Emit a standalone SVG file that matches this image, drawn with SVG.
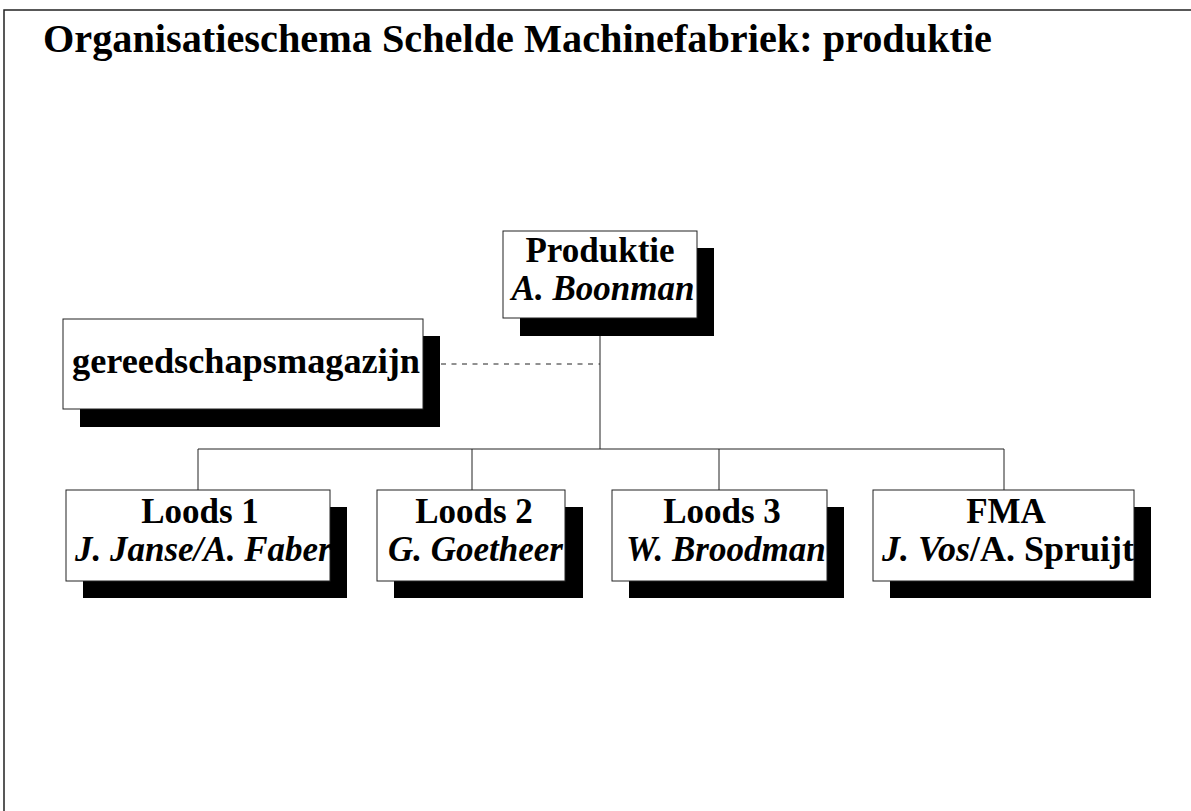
<svg xmlns="http://www.w3.org/2000/svg" width="1191" height="811" viewBox="0 0 1191 811">
<style>
.frame{stroke:#222;stroke-width:1.5;fill:none}
.conn{stroke:#222;stroke-width:1;fill:none}
.dash{stroke:#222;stroke-width:1;fill:none;stroke-dasharray:5 5.5}
.shadow{fill:#000}
.box{fill:#fff;stroke:#222;stroke-width:1}
.t{font-family:"Liberation Serif","Times New Roman",serif;font-weight:bold;fill:#000}
.b{font-size:35px;text-anchor:middle}
.i{font-style:italic}
.title{font-size:40px}
</style>
<rect width="1191" height="811" fill="#fff"/>
<path class="frame" d="M4,811 V10 H1191"/>
<text class="t title" x="43" y="52" textLength="949" lengthAdjust="spacingAndGlyphs">Organisatieschema Schelde Machinefabriek: produktie</text>
<g id="connectors">
<path class="conn" d="M600,318 V449 M198,449 H1004 M198,449 V490 M472,449 V490 M719,449 V490 M1004,449 V490"/>
<path class="dash" d="M441,364 H600"/>
</g>
<g id="produktie">
<rect class="shadow" x="520" y="248" width="194" height="88"/>
<rect class="box" x="503" y="231" width="194" height="87"/>
<text class="t b" x="600" y="262" font-size="36">Produktie</text>
<text class="t b i" x="603" y="300">A. Boonman</text>
</g>
<g id="gereedschapsmagazijn">
<rect class="shadow" x="80" y="336" width="360" height="91"/>
<rect class="box" x="63" y="319" width="360" height="90"/>
<text class="t" x="72" y="373" font-size="36" textLength="348" lengthAdjust="spacingAndGlyphs">gereedschapsmagazijn</text>
</g>
<g id="loods1">
<rect class="shadow" x="83" y="507" width="264" height="91"/>
<rect class="box" x="66" y="490" width="264" height="91"/>
<text class="t b" x="200" y="523">Loods 1</text>
<text class="t i" x="75" y="561" font-size="35">J. Janse/A. Faber</text>
</g>
<g id="loods2">
<rect class="shadow" x="394" y="507" width="189" height="91"/>
<rect class="box" x="377" y="490" width="188" height="91"/>
<text class="t b" x="474" y="523">Loods 2</text>
<text class="t i" x="388" y="561" font-size="35">G. Goetheer</text>
</g>
<g id="loods3">
<rect class="shadow" x="629" y="507" width="215" height="91"/>
<rect class="box" x="612" y="490" width="215" height="91"/>
<text class="t b" x="722" y="523">Loods 3</text>
<text class="t i" x="626" y="561" font-size="35">W. Broodman</text>
</g>
<g id="fma">
<rect class="shadow" x="890" y="507" width="261" height="91"/>
<rect class="box" x="873" y="490" width="261" height="91"/>
<text class="t b" x="1006" y="523">FMA</text>
<text class="t" x="882" y="561" font-size="36"><tspan class="i">J. Vos</tspan>/A. Spruijt</text>
</g>
</svg>
